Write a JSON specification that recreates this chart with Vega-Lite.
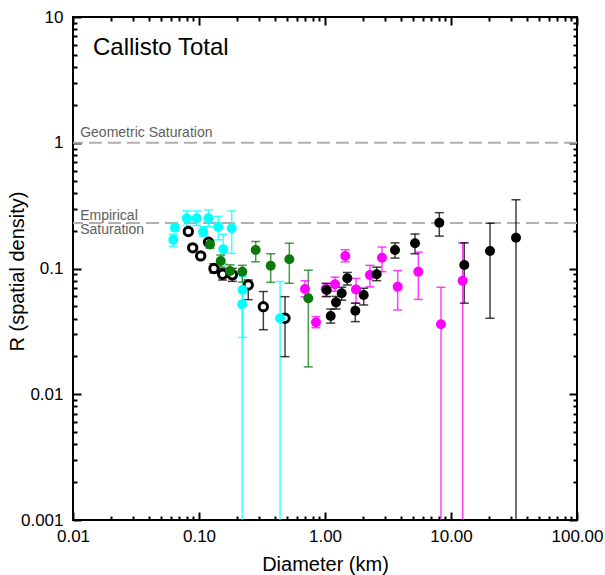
{
  "$schema": "https://vega.github.io/schema/vega-lite/v6.json",
  "autosize": "none",
  "padding": {"left": 73, "top": 17, "right": 28, "bottom": 55},
  "width": 504,
  "height": 503,
  "background": "white",
  "config": {
    "view": {"stroke": "black", "strokeWidth": 2},
    "font": "Liberation Sans",
    "axis": {
      "domain": false,
      "labelFont": "Liberation Sans", "labelFontSize": 17, "labelColor": "black",
      "titleFont": "Liberation Sans", "titleFontSize": 20, "titleFontWeight": "normal", "titleColor": "black",
      "grid": false, "labelOverlap": false, "labelFlush": false, "labelBound": false
    }
  },
  "datasets": {
    "pts": [
      {"g": "A", "d": 0.0645, "r": 0.211, "lo": 0.2, "hi": 0.224},
      {"g": "A", "d": 0.0625, "r": 0.169, "lo": 0.15, "hi": 0.187},
      {"g": "A", "d": 0.080, "r": 0.251, "lo": 0.22, "hi": 0.287},
      {"g": "A", "d": 0.096, "r": 0.251, "lo": 0.22, "hi": 0.287},
      {"g": "A", "d": 0.119, "r": 0.251, "lo": 0.215, "hi": 0.293},
      {"g": "A", "d": 0.142, "r": 0.215, "lo": 0.169, "hi": 0.26},
      {"g": "A", "d": 0.108, "r": 0.196, "lo": 0.18, "hi": 0.215},
      {"g": "A", "d": 0.182, "r": 0.209, "lo": 0.132, "hi": 0.287},
      {"g": "A", "d": 0.156, "r": 0.142, "lo": 0.109, "hi": 0.187},
      {"g": "A", "d": 0.222, "r": 0.0675, "lo": 0.0283, "hi": 0.0867},
      {"g": "A", "d": 0.22, "r": 0.052, "lo": 0.0005, "hi": 0.07},
      {"g": "A", "d": 0.44, "r": 0.0402, "lo": 0.0005, "hi": 0.0788},
      {"g": "B", "d": 0.0823, "r": 0.197, "lo": 0.187, "hi": 0.208},
      {"g": "B", "d": 0.0891, "r": 0.146, "lo": 0.14, "hi": 0.153},
      {"g": "B", "d": 0.1031, "r": 0.126, "lo": 0.12, "hi": 0.132},
      {"g": "B", "d": 0.119, "r": 0.162, "lo": 0.154, "hi": 0.17},
      {"g": "B", "d": 0.1315, "r": 0.1, "lo": 0.092, "hi": 0.109},
      {"g": "B", "d": 0.154, "r": 0.09, "lo": 0.081, "hi": 0.1},
      {"g": "B", "d": 0.184, "r": 0.089, "lo": 0.079, "hi": 0.1},
      {"g": "B", "d": 0.246, "r": 0.074, "lo": 0.0565, "hi": 0.081},
      {"g": "B", "d": 0.324, "r": 0.0497, "lo": 0.0326, "hi": 0.0656},
      {"g": "B", "d": 0.4815, "r": 0.0402, "lo": 0.0199, "hi": 0.0597},
      {"g": "C", "d": 0.1223, "r": 0.155, "lo": 0.145, "hi": 0.166},
      {"g": "C", "d": 0.1487, "r": 0.1147, "lo": 0.103, "hi": 0.128},
      {"g": "C", "d": 0.176, "r": 0.0955, "lo": 0.085, "hi": 0.107},
      {"g": "C", "d": 0.2207, "r": 0.0943, "lo": 0.078, "hi": 0.106},
      {"g": "C", "d": 0.2818, "r": 0.1403, "lo": 0.113, "hi": 0.164},
      {"g": "C", "d": 0.3707, "r": 0.1053, "lo": 0.0776, "hi": 0.131},
      {"g": "C", "d": 0.521, "r": 0.1184, "lo": 0.0763, "hi": 0.159},
      {"g": "C", "d": 0.737, "r": 0.058, "lo": 0.0165, "hi": 0.097},
      {"g": "D", "d": 0.694, "r": 0.0687, "lo": 0.0597, "hi": 0.08},
      {"g": "D", "d": 0.848, "r": 0.0373, "lo": 0.0338, "hi": 0.0415},
      {"g": "D", "d": 1.013, "r": 0.0687, "lo": 0.0597, "hi": 0.0763},
      {"g": "D", "d": 1.2, "r": 0.0749, "lo": 0.066, "hi": 0.0853},
      {"g": "D", "d": 1.449, "r": 0.1257, "lo": 0.113, "hi": 0.141},
      {"g": "D", "d": 1.762, "r": 0.0682, "lo": 0.053, "hi": 0.0834},
      {"g": "D", "d": 2.271, "r": 0.0888, "lo": 0.0715, "hi": 0.106},
      {"g": "D", "d": 2.834, "r": 0.1219, "lo": 0.0944, "hi": 0.148},
      {"g": "D", "d": 3.776, "r": 0.0717, "lo": 0.0468, "hi": 0.0962},
      {"g": "D", "d": 5.503, "r": 0.0943, "lo": 0.0568, "hi": 0.135},
      {"g": "D", "d": 8.329, "r": 0.036, "lo": 0.0005, "hi": 0.0709},
      {"g": "D", "d": 12.38, "r": 0.08, "lo": 0.0005, "hi": 0.16},
      {"g": "E", "d": 1.032, "r": 0.0675, "lo": 0.06, "hi": 0.076},
      {"g": "E", "d": 1.11, "r": 0.0419, "lo": 0.0368, "hi": 0.0476},
      {"g": "E", "d": 1.223, "r": 0.0538, "lo": 0.0476, "hi": 0.06},
      {"g": "E", "d": 1.357, "r": 0.0635, "lo": 0.056, "hi": 0.071},
      {"g": "E", "d": 1.503, "r": 0.0836, "lo": 0.0739, "hi": 0.093},
      {"g": "E", "d": 1.74, "r": 0.0462, "lo": 0.0378, "hi": 0.053},
      {"g": "E", "d": 2.028, "r": 0.0616, "lo": 0.0513, "hi": 0.0697},
      {"g": "E", "d": 2.572, "r": 0.0899, "lo": 0.08, "hi": 0.1025},
      {"g": "E", "d": 3.594, "r": 0.1403, "lo": 0.121, "hi": 0.16},
      {"g": "E", "d": 5.18, "r": 0.1586, "lo": 0.131, "hi": 0.188},
      {"g": "E", "d": 8.075, "r": 0.2313, "lo": 0.181, "hi": 0.278},
      {"g": "E", "d": 12.75, "r": 0.1066, "lo": 0.053, "hi": 0.16},
      {"g": "E", "d": 20.4, "r": 0.1377, "lo": 0.0402, "hi": 0.229},
      {"g": "E", "d": 32.8, "r": 0.1758, "lo": 0.0005, "hi": 0.352}
    ],
    "sat": [{"r": 1}, {"r": 0.23}],
    "notes": [
      {"d": 0.0114, "r": 1.185, "t": "Geometric Saturation"},
      {"d": 0.0114, "r": 0.2616, "t": "Empirical"},
      {"d": 0.0114, "r": 0.2042, "t": "Saturation"}
    ],
    "heading": [{"d": 0.0144, "r": 5.67, "t": "Callisto Total"}]
  },
  "layer": [
    {
      "data": {"name": "sat"},
      "mark": {"type": "rule", "color": "#b0b0b0", "strokeWidth": 2, "strokeDash": [13, 6]},
      "encoding": {
        "y": {"field": "r", "type": "quantitative", "scale": {"type": "log", "domain": [0.001, 10], "nice": false}, "axis": null}
      }
    },
    {
      "data": {"name": "notes"},
      "mark": {"type": "text", "align": "left", "baseline": "middle", "fontSize": 14, "color": "#606060", "font": "Liberation Sans"},
      "encoding": {
        "x": {"field": "d", "type": "quantitative", "scale": {"type": "log", "domain": [0.01, 100], "nice": false},
          "axis": {"orient": "bottom", "tickSize": -8, "tickColor": "black", "tickWidth": 2, "labelPadding": 16, "values": [0.01, 0.1, 1, 10, 100], "format": ".2f",
            "title": "Diameter (km)", "titleY": 44, "titleBaseline": "middle"}},
        "y": {"field": "r", "type": "quantitative", "scale": {"type": "log", "domain": [0.001, 10], "nice": false},
          "axis": {"orient": "left", "tickSize": -8, "tickColor": "black", "tickWidth": 2, "labelPadding": 18, "values": [0.001, 0.01, 0.1, 1, 10],
            "labelExpr": "'' + datum.value",
            "title": "R (spatial density)", "titleX": -56, "titleY": 254, "titleAngle": 270, "titleBaseline": "middle", "titleAlign": "center"}},
        "text": {"field": "t"}
      }
    },
    {
      "data": {"name": "heading"},
      "mark": {"type": "text", "align": "left", "baseline": "middle", "fontSize": 24, "color": "black", "font": "Liberation Sans"},
      "encoding": {
        "x": {"field": "d", "type": "quantitative", "scale": {"type": "log", "domain": [0.01, 100], "nice": false},
          "axis": {"orient": "bottom", "tickSize": -4, "tickColor": "black", "tickWidth": 2, "labels": false, "title": null,
            "values": [0.02,0.03,0.04,0.05,0.06,0.07,0.08,0.09,0.2,0.3,0.4,0.5,0.6,0.7,0.8,0.9,2,3,4,5,6,7,8,9,20,30,40,50,60,70,80,90]}},
        "y": {"field": "r", "type": "quantitative", "scale": {"type": "log", "domain": [0.001, 10], "nice": false},
          "axis": {"orient": "left", "tickSize": -4, "tickColor": "black", "tickWidth": 2, "labels": false, "title": null,
            "values": [0.002,0.003,0.004,0.005,0.006,0.007,0.008,0.009,0.02,0.03,0.04,0.05,0.06,0.07,0.08,0.09,0.2,0.3,0.4,0.5,0.6,0.7,0.8,0.9,2,3,4,5,6,7,8,9]}},
        "text": {"field": "t"}
      }
    },
    {
      "data": {"name": "pts"},
      "mark": {"type": "rule", "strokeWidth": 1.5, "opacity": 0.75, "clip": true},
      "encoding": {
        "x": {"field": "d", "type": "quantitative", "scale": {"type": "log", "domain": [0.01, 100], "nice": false},
          "axis": {"orient": "top", "tickSize": -8, "tickColor": "black", "tickWidth": 2, "labels": false, "title": null, "values": [0.01, 0.1, 1, 10, 100]}},
        "y": {"field": "lo", "type": "quantitative", "scale": {"type": "log", "domain": [0.001, 10], "nice": false},
          "axis": {"orient": "right", "tickSize": -8, "tickColor": "black", "tickWidth": 2, "labels": false, "title": null, "values": [0.001, 0.01, 0.1, 1, 10]}},
        "y2": {"field": "hi"},
        "color": {"field": "g", "type": "nominal", "legend": null,
          "scale": {"domain": ["A", "B", "C", "D", "E"], "range": ["#00FFFF", "#000000", "#0B7A0B", "#FF00FF", "#000000"]}}
      }
    },
    {
      "data": {"name": "pts"},
      "mark": {"type": "tick", "orient": "horizontal", "size": 9, "thickness": 1.5, "opacity": 0.75, "clip": true},
      "encoding": {
        "x": {"field": "d", "type": "quantitative", "scale": {"type": "log", "domain": [0.01, 100], "nice": false},
          "axis": {"orient": "top", "tickSize": -4, "tickColor": "black", "tickWidth": 2, "labels": false, "title": null,
            "values": [0.02,0.03,0.04,0.05,0.06,0.07,0.08,0.09,0.2,0.3,0.4,0.5,0.6,0.7,0.8,0.9,2,3,4,5,6,7,8,9,20,30,40,50,60,70,80,90]}},
        "y": {"field": "lo", "type": "quantitative", "scale": {"type": "log", "domain": [0.001, 10], "nice": false},
          "axis": {"orient": "right", "tickSize": -4, "tickColor": "black", "tickWidth": 2, "labels": false, "title": null,
            "values": [0.002,0.003,0.004,0.005,0.006,0.007,0.008,0.009,0.02,0.03,0.04,0.05,0.06,0.07,0.08,0.09,0.2,0.3,0.4,0.5,0.6,0.7,0.8,0.9,2,3,4,5,6,7,8,9]}},
        "color": {"field": "g", "type": "nominal", "legend": null}
      }
    },
    {
      "data": {"name": "pts"},
      "mark": {"type": "tick", "orient": "horizontal", "size": 9, "thickness": 1.5, "opacity": 0.75, "clip": true},
      "encoding": {
        "x": {"field": "d", "type": "quantitative", "scale": {"type": "log", "domain": [0.01, 100], "nice": false}, "axis": null},
        "y": {"field": "hi", "type": "quantitative", "scale": {"type": "log", "domain": [0.001, 10], "nice": false}, "axis": null},
        "color": {"field": "g", "type": "nominal", "legend": null}
      }
    },
    {
      "data": {"name": "pts"},
      "transform": [{"filter": "datum.g === 'B'"}],
      "mark": {"type": "point", "shape": "circle", "filled": true, "fill": "white", "stroke": "black", "strokeWidth": 3, "size": 70, "opacity": 1},
      "encoding": {
        "x": {"field": "d", "type": "quantitative", "scale": {"type": "log", "domain": [0.01, 100], "nice": false}, "axis": null},
        "y": {"field": "r", "type": "quantitative", "scale": {"type": "log", "domain": [0.001, 10], "nice": false}, "axis": null}
      }
    },
    {
      "data": {"name": "pts"},
      "transform": [{"filter": "datum.g !== 'B'"}],
      "mark": {"type": "circle", "size": 100, "opacity": 1},
      "encoding": {
        "x": {"field": "d", "type": "quantitative", "scale": {"type": "log", "domain": [0.01, 100], "nice": false}, "axis": null},
        "y": {"field": "r", "type": "quantitative", "scale": {"type": "log", "domain": [0.001, 10], "nice": false}, "axis": null},
        "color": {"field": "g", "type": "nominal", "legend": null}
      }
    }
  ],
  "resolve": {"axis": {"x": "independent", "y": "independent"}}
}
